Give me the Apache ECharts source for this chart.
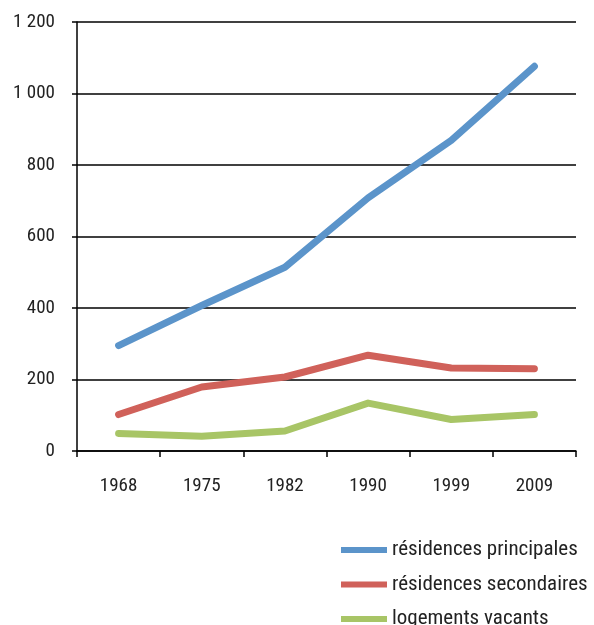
<!DOCTYPE html>
<html>
<head>
<meta charset="utf-8">
<script src="https://cdn.jsdelivr.net/npm/echarts@6/dist/echarts.min.js"></script>
<style>html,body{margin:0;padding:0;background:#fff;}#c{width:594px;height:625px;}</style>
</head>
<body>
<div id="c"></div>
<script>
const years = ['1968', '1975', '1982', '1990', '1999', '2009'];
const principales = [295, 407, 514, 708, 869, 1076];
const secondaires = [102, 179, 207, 268, 232, 230];
const vacants = [49, 41, 56, 134, 88, 102];
const seriesNames = ['résidences principales', 'résidences secondaires', 'logements vacants'];
const colors = ['#5b94ca', '#d0615a', '#a8c566'];

const FONT = "'Roboto Condensed', 'DejaVu Sans Condensed', sans-serif";
const chart = echarts.init(document.getElementById('c'));
function mk(name, data, color) {
  return {
    name: name, type: 'line', data: data, symbol: 'none',
    lineStyle: { width: 7, color: color, cap: 'round', join: 'round' },
    itemStyle: { color: color }
  };
}
chart.setOption({
  animation: false,
  backgroundColor: '#fff',
  grid: { left: 77, right: 18, top: 22, bottom: 174 },
  legend: {
    orient: 'vertical', left: 336, top: 534, height: 200,
    icon: 'rect', itemWidth: 46, itemHeight: 6, itemGap: 12.5,
    textStyle: { fontFamily: FONT, fontSize: 21, color: '#222', lineHeight: 22 },
    data: seriesNames
  },
  xAxis: {
    type: 'category', data: years, boundaryGap: true,
    axisLine: { lineStyle: { color: '#000', width: 1.5 } },
    axisTick: { show: true, length: 6, lineStyle: { color: '#000', width: 1.5 } },
    axisLabel: { fontFamily: FONT, fontSize: 19, color: '#222', margin: 26 }
  },
  yAxis: {
    type: 'value', min: 0, max: 1200, interval: 200,
    axisLine: { show: true, lineStyle: { color: '#000', width: 1.5 } },
    axisTick: { show: true, length: 5, lineStyle: { color: '#000', width: 1.5 } },
    splitLine: { lineStyle: { color: '#000', width: 1.5 } },
    axisLabel: {
      fontFamily: FONT, fontSize: 19, color: '#222', margin: 22,
      formatter: v => String(v).replace(/\B(?=(\d{3})+(?!\d))/g, ' ')
    }
  },
  series: [
    mk(seriesNames[0], principales, colors[0]),
    mk(seriesNames[1], secondaires, colors[1]),
    mk(seriesNames[2], vacants, colors[2])
  ]
});
</script>
</body>
</html>
